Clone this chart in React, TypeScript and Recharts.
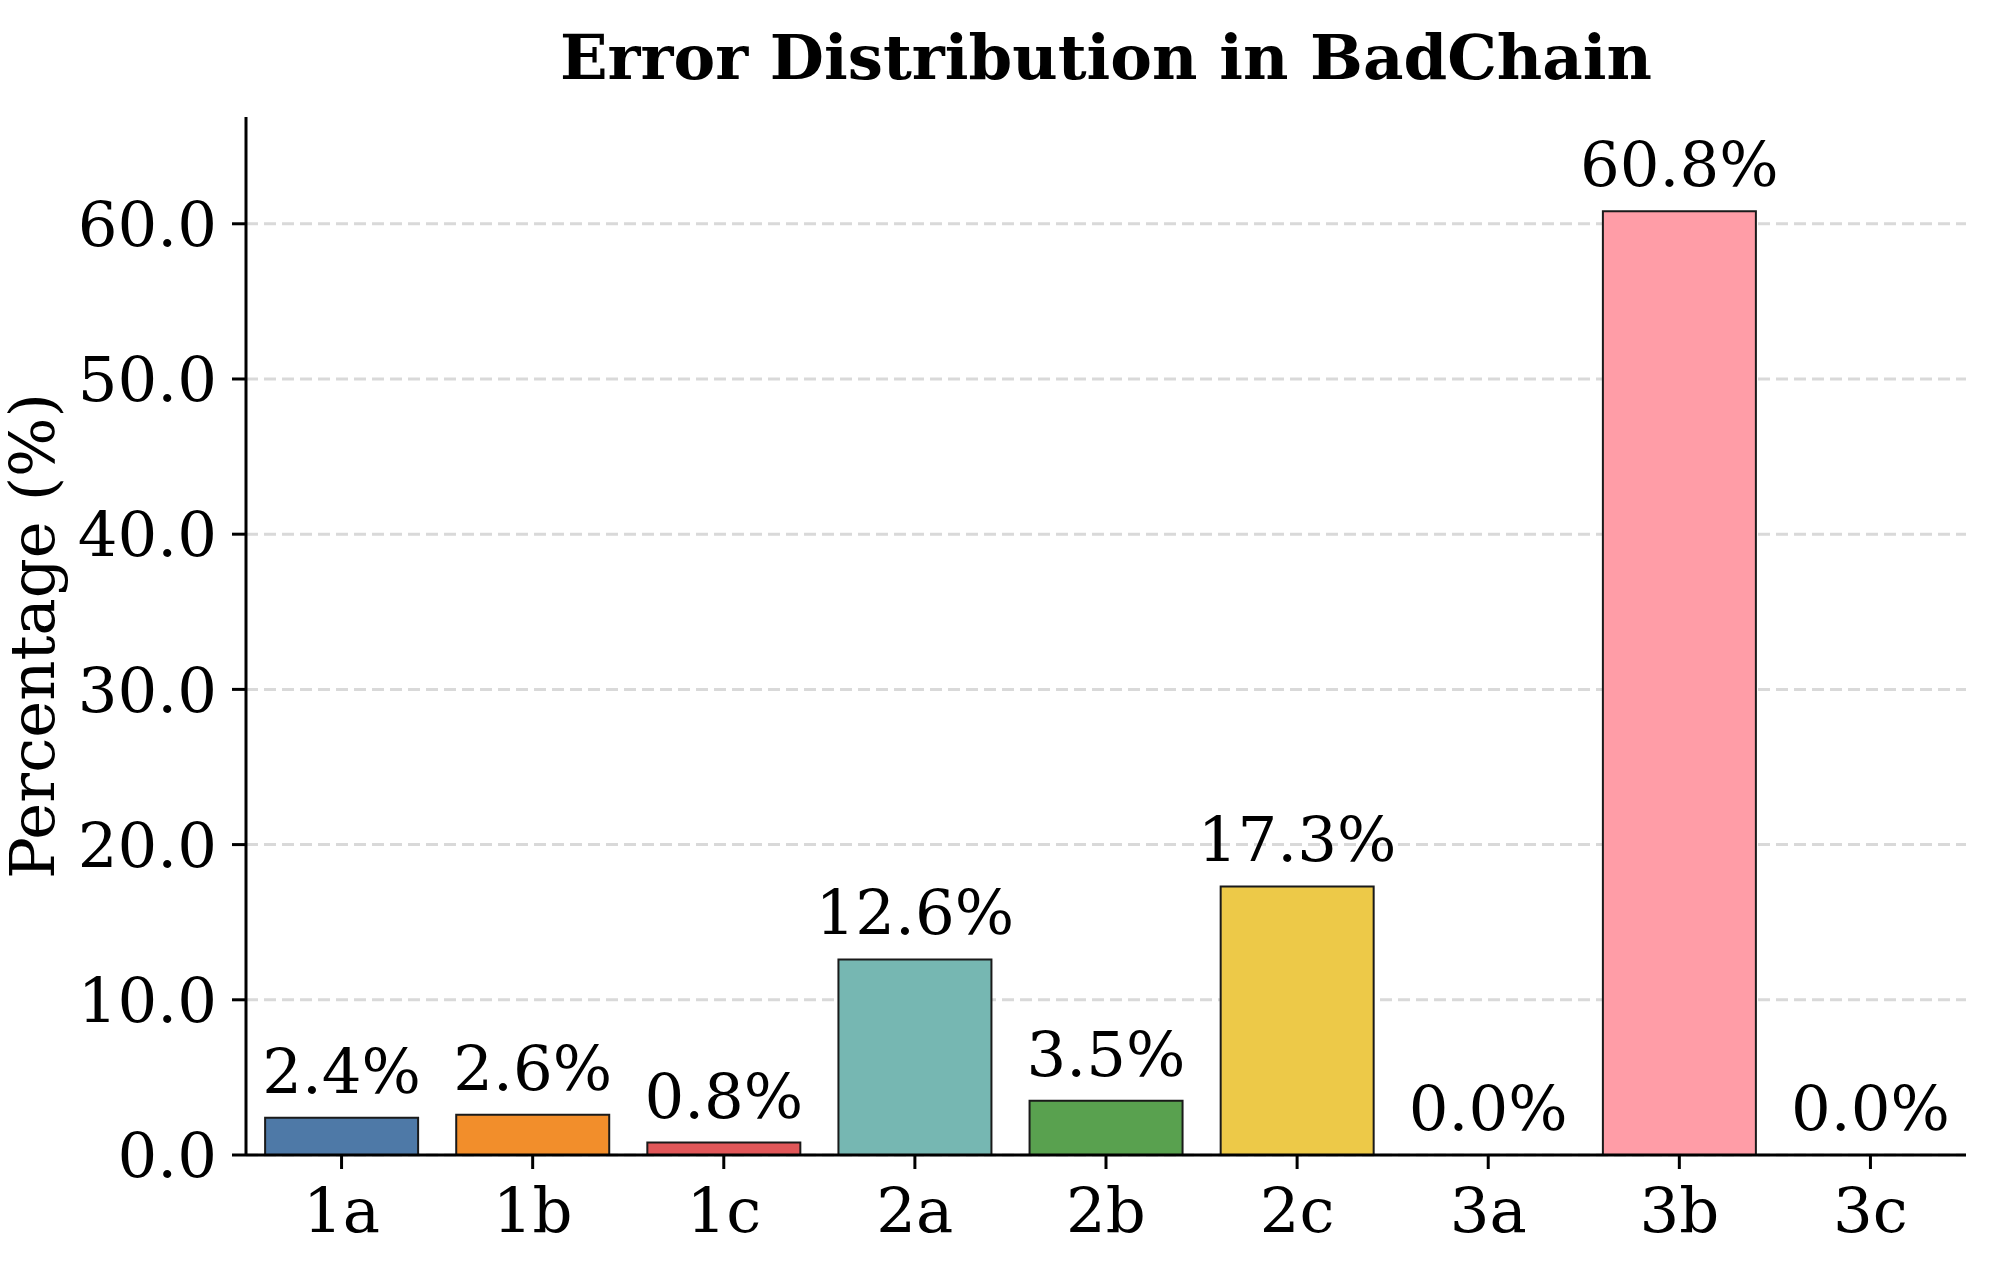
import { ComposedChart, Bar, Scatter, XAxis, YAxis, CartesianGrid, Cell } from "recharts";

// error categories and their share of all BadChain errors (%)
const categories = ["1a", "1b", "1c", "2a", "2b", "2c", "3a", "3b", "3c"];
const percentages = [2.4, 2.6, 0.8, 12.6, 3.5, 17.3, 0.0, 60.8, 0.0];
const barColors = [
  "#4e79a7",
  "#f28e2b",
  "#e15759",
  "#76b7b2",
  "#59a14f",
  "#edc948",
  "#b07aa1",
  "#ff9da7",
  "#9c755f",
];
const yTicks = [0, 10, 20, 30, 40, 50, 60];

const data = categories.map((name, i) => ({ name, value: percentages[i] }));
const yMax = Math.max(...percentages) * 1.1;

const FONT = "DejaVu Serif";
const FONT_SIZE = 62.5;

// value text above each bar; drawn as a scatter shape so zero bars get one too
function ValueLabel(props: any) {
  const { cx, cy, payload } = props;
  return (
    <text
      x={cx}
      y={cy - 25}
      textAnchor="middle"
      fontFamily={FONT}
      fontSize={FONT_SIZE}
      fill="#000"
    >
      {Number(payload.value).toFixed(1)}%
    </text>
  );
}

function YLabel(props: any) {
  const { viewBox } = props;
  const cy = viewBox.y + viewBox.height / 2;
  const x = 54;
  return (
    <text
      x={x}
      y={cy}
      transform={`rotate(-90, ${x}, ${cy})`}
      textAnchor="middle"
      fontFamily={FONT}
      fontSize={FONT_SIZE}
      fill="#000"
    >
      Percentage (%)
    </text>
  );
}

export default function App() {
  const tickStyle = { fontFamily: FONT, fontSize: FONT_SIZE, fill: "#000" };
  return (
    <div style={{ position: "absolute", left: 0, top: 0, width: 1994, height: 1275, background: "#fff" }}>
      <svg
        width={1994}
        height={1275}
        style={{ position: "absolute", left: 0, top: 0, pointerEvents: "none", zIndex: 1 }}
      >
        <text x={1106} y={79} textAnchor="middle" fontFamily={FONT} fontWeight="bold" fontSize={FONT_SIZE} fill="#000">
          Error Distribution in BadChain
        </text>
      </svg>
      <ComposedChart
        width={1994}
        height={1275}
        data={data}
        margin={{ top: 117, right: 28, bottom: 0, left: 0 }}
        barCategoryGap="10%"
      >
        <CartesianGrid
          vertical={false}
          syncWithTicks
          stroke="#d9d9d9"
          strokeWidth={3}
          strokeDasharray="12 6"
        />
        <XAxis
          dataKey="name"
          height={120}
          tick={tickStyle}
          tickSize={14}
          tickMargin={19}
          axisLine={{ stroke: "#000", strokeWidth: 3 }}
          tickLine={{ stroke: "#000", strokeWidth: 3 }}
        />
        <YAxis
          width={246}
          domain={[0, yMax]}
          ticks={yTicks}
          tickFormatter={(v: number) => v.toFixed(1)}
          tick={tickStyle}
          tickSize={14}
          tickMargin={15}
          axisLine={{ stroke: "#000", strokeWidth: 3 }}
          tickLine={{ stroke: "#000", strokeWidth: 3 }}
          label={<YLabel />}
        />
        <Bar dataKey="value" stroke="#1a1a1a" strokeWidth={2} isAnimationActive={false}>
          {data.map((d, i) => (
            <Cell key={d.name} fill={barColors[i]} />
          ))}
        </Bar>
        <Scatter dataKey="value" shape={<ValueLabel />} isAnimationActive={false} />
      </ComposedChart>
    </div>
  );
}
